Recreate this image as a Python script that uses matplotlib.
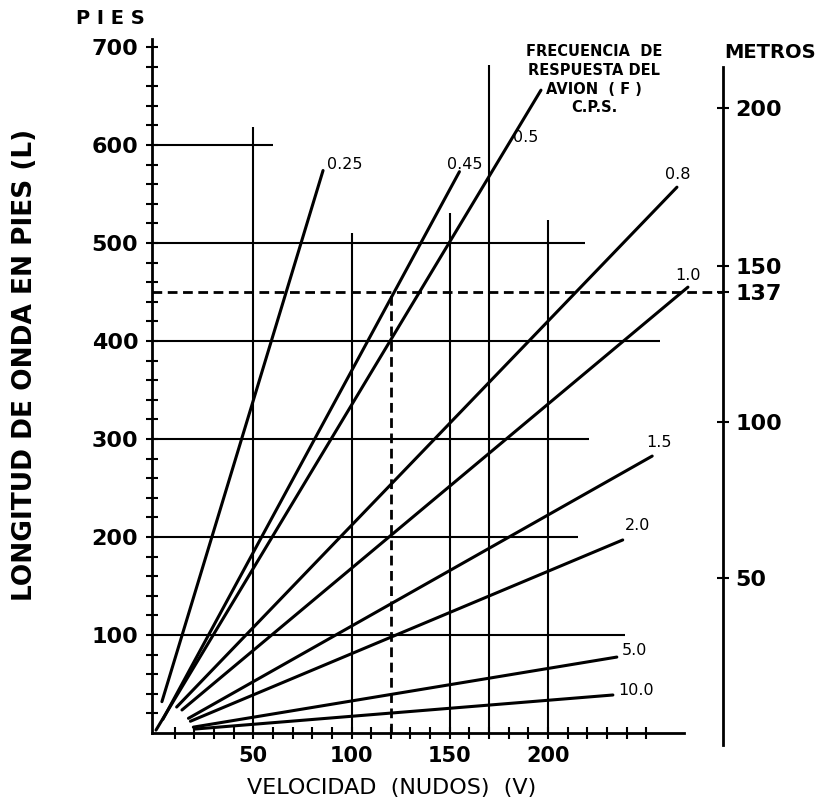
import matplotlib
matplotlib.use("Agg")
import matplotlib.pyplot as plt
import numpy as np

# ---------------- data ----------------
freq_labels = ['0.25', '0.45', '0.5', '0.8', '1.0', '1.5', '2.0', '5.0', '10.0']
v_start = [3.5, 4.0, 0.5, 11.0, 13.7, 17.0, 18.0, 19.5, 20.0]        # knots
l_start = [32.0, 14.0, 3.0, 26.5, 23.5, 15.0, 12.0, 6.0, 4.0]          # ft
v_end = [85.5, 154.9, 196.4, 265.6, 271.2, 253.0, 238.0, 235.0, 233.0]  # knots
l_end = [574.0, 572.8, 656.0, 557.0, 455.0, 282.6, 197.0, 77.5, 38.8]   # ft

# horizontal reference lines (ft) and how far they run (knots)
hgrid_l = [100, 200, 300, 400, 500, 600]
hgrid_v_end = [239, 215, 221, 257, 219, 60]
# vertical reference lines (knots) and how high they run (ft)
vgrid_v = [50, 100, 150, 170, 200]
vgrid_l_top = [618, 510, 531, 682, 523]

# worked example
example_v = 120
example_l = 450

x_ticks = [50, 100, 150, 200]
y_ticks = [100, 200, 300, 400, 500, 600, 700]
metros_labels = ['50', '100', '137', '150', '200']
metros_pos_ft = [158, 317, 450, 477, 638]

# ---------------- layout ----------------
W, H = 820, 807
fig = plt.figure(figsize=(W / 100, H / 100), dpi=100)
ax = fig.add_axes([0, 0, 1, 1])
ax.set_xlim(-78.9, 338.4)
ax.set_ylim(-75.5, 748)
ax.patch.set_visible(False)

def fx(px):
    return px / W

def fy(py):
    return 1 - py / H

GLW = 1.5

# axes spines
for s in ['top', 'right']:
    ax.spines[s].set_visible(False)
ax.spines['left'].set_position(('data', -1.5))
ax.spines['left'].set_bounds(0, 708)
ax.spines['bottom'].set_position(('data', 0))
ax.spines['bottom'].set_bounds(-1.5, 269)
for s in ['left', 'bottom']:
    ax.spines[s].set_linewidth(2.0)

ax.set_xticks(x_ticks)
ax.set_xticks(np.arange(10, 260, 10), minor=True)
ax.set_yticks(y_ticks)
ax.set_yticks(np.arange(20, 700, 20), minor=True)
ax.tick_params(which='both', direction='inout', length=8, width=1.5, color='black')
ax.tick_params(axis='y', which='major', labelsize=16, pad=6)
ax.tick_params(axis='x', which='major', labelsize=15, pad=5)
for lab in ax.get_xticklabels() + ax.get_yticklabels():
    lab.set_fontweight('bold')

# right (metros) axis
ax2 = ax.twinx()
ax2.set_ylim(ax.get_ylim())
for s in ['left', 'top', 'bottom']:
    ax2.spines[s].set_visible(False)
ax2.spines['right'].set_position(('data', 289))
ax2.spines['right'].set_bounds(-12, 680)
ax2.spines['right'].set_linewidth(2.0)
ax2.set_yticks(metros_pos_ft, labels=metros_labels)
ax2.tick_params(direction='inout', length=8, width=1.5, labelsize=16, pad=5)
for lab in ax2.get_yticklabels():
    lab.set_fontweight('bold')

# reference grid segments
for L, ve in zip(hgrid_l, hgrid_v_end):
    ax.plot([-1.5, ve], [L, L], color='black', lw=GLW, solid_capstyle='butt')
for V, lt in zip(vgrid_v, vgrid_l_top):
    ax.plot([V, V], [0, lt], color='black', lw=GLW, solid_capstyle='butt')

# dashed example lines
ax.plot([example_v, example_v], [0, example_l], color='black', lw=2.0,
        linestyle=(0, (3.5, 2)))
ax.plot([-1.5, 289], [example_l, example_l], color='black', lw=2.0,
        linestyle=(0, (3.5, 2)))

# frequency lines
label_pos = [(87.5, 572), (148.6, 572), (182, 600), (259.5, 562), (264.6, 459),
             (250, 289), (239, 204), (237.7, 76.5), (235.6, 35.7)]
for lab, vs, ls, ve, le, pos in zip(freq_labels, v_start, l_start, v_end, l_end, label_pos):
    ax.plot([vs, ve], [ls, le], color='black', lw=2.2, solid_capstyle='round')
    ax.text(pos[0], pos[1], lab, fontsize=11.5, ha='left', va='bottom')

# titles / labels
fig.text(fx(110), fy(18), 'P I E S', fontsize=14, fontweight='bold', ha='center', va='center')
fig.text(fx(770), fy(52), 'METROS', fontsize=14, fontweight='bold', ha='center', va='center')
for i, t in enumerate(['FRECUENCIA  DE', 'RESPUESTA DEL', 'AVION  ( F )', 'C.P.S.']):
    fig.text(fx(594), fy(52 + 18.5 * i), t, fontsize=10.5, fontweight='bold',
             ha='center', va='center')
fig.text(fx(25), fy(365), 'LONGITUD DE ONDA EN PIES (L)', fontsize=19,
         fontweight='bold', rotation=90, ha='center', va='center')
fig.text(fx(392), fy(788), 'VELOCIDAD  (NUDOS)  (V)', fontsize=16,
         ha='center', va='center')

fig.savefig('out.png', dpi=100)
